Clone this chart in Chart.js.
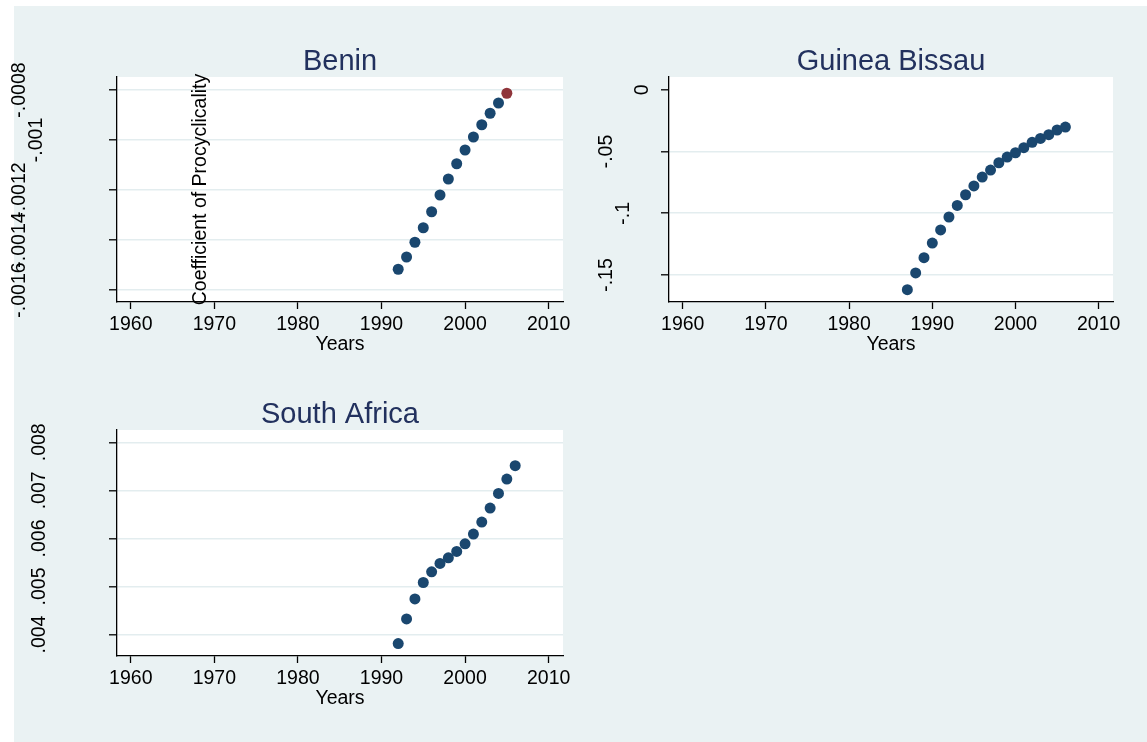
<!DOCTYPE html>
<html><head><meta charset="utf-8">
<script src="https://cdn.jsdelivr.net/npm/chart.js@4.4.0/dist/chart.umd.min.js"></script>
<style>
html,body{margin:0;padding:0;background:#fff;width:1147px;height:742px;overflow:hidden;}
#bg{position:absolute;left:14px;top:6px;width:1133px;height:736px;background:#eaf2f3;}
canvas{position:absolute;left:0;top:0;}
</style></head><body>
<div id="bg"></div>
<canvas id="c1" width="1147" height="742"></canvas>
<canvas id="c2" width="1147" height="742"></canvas>
<canvas id="c3" width="1147" height="742"></canvas>
<script>
// ---------- data ----------
const yearTicks = [1960, 1970, 1980, 1990, 2000, 2010];
const xTitle = 'Years';
const yTitle = 'Coefficient of Procyclicality';

const beninTitle = 'Benin';
const beninYears = [1992,1993,1994,1995,1996,1997,1998,1999,2000,2001,2002,2003,2004,2005];
const beninValues = [-0.001517,-0.001468,-0.001409,-0.001351,-0.001287,-0.00122,-0.001156,-0.001095,-0.00104,-0.000988,-0.000939,-0.000893,-0.000852,-0.000813];
const beninHighlightYear = 2005;
const beninYTicks = [-0.0016, -0.0014, -0.0012, -0.001, -0.0008];
const beninYLabels = ['-.0016', '-.0014', '-.0012', '-.001', '-.0008'];

const guineaTitle = 'Guinea Bissau';
const guineaYears = [1987,1988,1989,1990,1991,1992,1993,1994,1995,1996,1997,1998,1999,2000,2001,2002,2003,2004,2005,2006];
const guineaValues = [-0.1618,-0.1483,-0.1359,-0.1241,-0.1135,-0.1030,-0.0936,-0.0850,-0.0779,-0.0707,-0.0650,-0.0591,-0.0545,-0.0510,-0.0469,-0.0426,-0.0394,-0.0364,-0.0326,-0.0302];
const guineaYTicks = [-0.15, -0.1, -0.05, 0];
const guineaYLabels = ['-.15', '-.1', '-.05', '0'];

const saTitle = 'South Africa';
const saYears = [1992,1993,1994,1995,1996,1997,1998,1999,2000,2001,2002,2003,2004,2005,2006];
const saValues = [0.003812,0.004326,0.004742,0.005083,0.005305,0.005479,0.005596,0.005729,0.005888,0.00609,0.00634,0.006631,0.006937,0.007235,0.007513];
const saYTicks = [0.004, 0.005, 0.006, 0.007, 0.008];
const saYLabels = ['.004', '.005', '.006', '.007', '.008'];

// ---------- style ----------
const FONT = '"Liberation Sans", Arial, sans-serif';
const BLUE = '#1a476f', RED = '#90353b', NAVY = '#22315e', GRID = '#e3edef';
const W = 1147, H = 742, Y_W = 20, X_H = 60;
const X_MIN = 1958.35, X_MAX = 2011.72;

Chart.defaults.font.family = FONT;

const panelPlugin = {
  id: 'panelText',
  beforeDraw(chart) {
    const a = chart.chartArea, ctx = chart.ctx;
    ctx.save();
    ctx.fillStyle = '#fff';
    ctx.fillRect(a.left, a.top, a.right - a.left, a.bottom - a.top);
    ctx.restore();
  },
  afterDraw(chart) {
    const p = chart.options.plugins.panelText;
    const a = chart.chartArea, ctx = chart.ctx;
    const mid = (a.left + a.right) / 2;
    ctx.save();
    // title
    ctx.font = '29px ' + FONT;
    ctx.fillStyle = NAVY;
    ctx.textAlign = 'center';
    ctx.textBaseline = 'alphabetic';
    ctx.fillText(p.title, mid, a.top - 7.5);
    // x title
    ctx.font = '19.5px ' + FONT;
    ctx.fillStyle = '#000';
    ctx.fillText(xTitle, mid, a.bottom + 48);
    // rotated y tick labels
    const ys = chart.scales.y;
    ctx.textBaseline = 'middle';
    p.yTicks.forEach((v, i) => {
      const lab = p.yLabels[i];
      const w = ctx.measureText(lab).width;
      const cx = a.left - 8.5 - 1.615 * w - p.labelExtra;
      const cy = ys.getPixelForValue(v);
      ctx.save();
      ctx.translate(cx, cy);
      ctx.rotate(-Math.PI / 2);
      ctx.fillText(lab, 0, 0);
      ctx.restore();
    });
    // y title (drawn inside Benin panel as in the source)
    if (p.showYTitle) {
      ctx.save();
      ctx.translate(a.left + 88.5, (a.top + a.bottom) / 2);
      ctx.rotate(-Math.PI / 2);
      ctx.textAlign = 'center';
      ctx.textBaseline = 'alphabetic';
      ctx.fillText(yTitle, 0, 0);
      ctx.restore();
    }
    ctx.restore();
  }
};

function makePanel(id, cfg) {
  const ar = cfg.area;
  return new Chart(document.getElementById(id), {
    type: 'scatter',
    data: {
      datasets: [{
        data: cfg.years.map((x, i) => ({ x: x, y: cfg.values[i] })),
        pointRadius: 5.5,
        pointHoverRadius: 5.5,
        borderWidth: 0,
        backgroundColor: c => (c.raw && c.raw.x === cfg.highlightYear) ? RED : BLUE
      }]
    },
    options: {
      responsive: false,
      animation: false,
      devicePixelRatio: 1,
      events: [],
      layout: { padding: { left: ar.left - Y_W, top: ar.top, right: W - ar.right, bottom: H - ar.bottom - X_H } },
      plugins: {
        legend: { display: false },
        tooltip: { enabled: false },
        panelText: { title: cfg.title, yTicks: cfg.yTicks, yLabels: cfg.yLabels, labelExtra: cfg.labelExtra, showYTitle: cfg.showYTitle }
      },
      scales: {
        x: {
          type: 'linear', min: X_MIN, max: X_MAX,
          afterBuildTicks: s => { s.ticks = yearTicks.map(v => ({ value: v })); },
          afterFit: s => { s.height = X_H; },
          grid: { drawOnChartArea: false, drawTicks: true, tickLength: 7, tickColor: '#000', tickWidth: 1.3 },
          border: { display: true, color: '#000', width: 1.3 },
          ticks: { color: '#000', font: { family: FONT, size: 19.5 }, padding: 4, maxRotation: 0, minRotation: 0, autoSkip: false, callback: v => String(v) }
        },
        y: {
          type: 'linear', min: cfg.yMin, max: cfg.yMax,
          afterBuildTicks: s => { s.ticks = cfg.yTicks.map(v => ({ value: v })); },
          afterFit: s => { s.width = Y_W; },
          grid: {
            color: c => (cfg.noGridAt !== null && c.tick && Math.abs(c.tick.value - cfg.noGridAt) < 1e-12) ? 'rgba(0,0,0,0)' : GRID,
            lineWidth: 1.6, drawTicks: true, tickLength: 8, tickColor: '#000', tickWidth: 1.3
          },
          border: { display: true, color: '#000', width: 1.3 },
          ticks: { display: false }
        }
      }
    },
    plugins: [panelPlugin]
  });
}

makePanel('c1', {
  title: beninTitle, years: beninYears, values: beninValues, highlightYear: beninHighlightYear,
  yTicks: beninYTicks, yLabels: beninYLabels, yMin: -0.001648, yMax: -0.000748,
  area: { left: 117, top: 77, right: 563, bottom: 302 }, labelExtra: 0, showYTitle: true, noGridAt: null
});
makePanel('c2', {
  title: guineaTitle, years: guineaYears, values: guineaValues, highlightYear: null,
  yTicks: guineaYTicks, yLabels: guineaYLabels, yMin: -0.1718, yMax: 0.0103,
  area: { left: 669, top: 77, right: 1113, bottom: 302 }, labelExtra: 0, showYTitle: false, noGridAt: 0
});
makePanel('c3', {
  title: saTitle, years: saYears, values: saValues, highlightYear: null,
  yTicks: saYTicks, yLabels: saYLabels, yMin: 0.003554, yMax: 0.008256,
  area: { left: 117, top: 430, right: 563, bottom: 656 }, labelExtra: 8, showYTitle: false, noGridAt: null
});
</script>
</body></html>
